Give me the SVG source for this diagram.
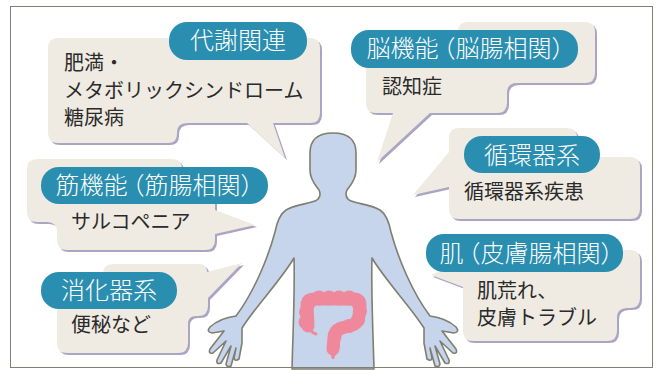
<svg xmlns="http://www.w3.org/2000/svg" width="659" height="370" viewBox="0 0 659 370">
  <defs>
    <style>
      .frame { fill: none; stroke: #7f7f72; stroke-width: 1; }
      .shadow { fill: #a9a5c2; }
      .bubble { fill: #efebe2; }
      .pill { fill: #2a8eb0; }
      .title { font-family: "Noto Sans CJK JP", "Noto Sans", sans-serif; font-size: 24px; font-weight: 300; fill: #ffffff; text-anchor: middle; }
      .body { font-family: "Noto Sans CJK JP", "Noto Sans", sans-serif; font-size: 20px; fill: #2a2a2a; }
      .half { font-feature-settings: "halt"; }
      .figure { fill: #c6d4ec; stroke: #7f7f70; stroke-width: 1.6; stroke-linejoin: round; }
      .colon { fill: #f0889c; }
      .colon-line { fill: none; stroke: #f0889c; stroke-linecap: round; stroke-linejoin: round; }
    </style>
  </defs>

  <rect width="659" height="370" fill="#ffffff"/>

  <!-- human figure -->
  <g id="figure">
    <path class="figure" d="
      M 333,133
      C 347,133 356,139 356,153
      V 170
      C 356,180 350,186 347,190
      C 345,194 346,199 351,201
      C 359,204 372,205 380,210
      C 386,214 389,222 391,232
      C 398,258 412,292 430,316
      Q 446,318 456,327
      Q 460,332 454,333
      L 442,331
      L 456,349 Q 458,354 453,353
      L 440,341
      L 449,360 Q 450,365 445,363
      L 435,346
      L 440,364 Q 439,368 435,366
      L 430,348
      L 432,358 Q 431,362 427,359
      L 424,343
      L 424,328
      C 410,306 385,280 372,258
      C 371,290 373,330 374,369
      L 292,369
      C 293,330 295,290 294,258
      C 281,280 256,306 242,328
      L 242,343
      L 239,359 Q 235,362 234,358
      L 236,348
      L 231,366 Q 227,368 226,364
      L 231,346
      L 221,363 Q 216,365 217,360
      L 226,341
      L 213,353 Q 208,354 210,349
      L 224,331
      L 212,333
      Q 206,332 210,327
      Q 220,318 236,316
      C 254,292 268,258 275,232
      C 277,222 280,214 286,210
      C 294,205 307,204 315,201
      C 320,199 321,194 319,190
      C 316,186 310,180 310,170
      V 153
      C 310,139 319,133 333,133 Z"/>
    <!-- large intestine -->
    <g id="colon">
      <path class="colon-line" stroke-width="13" d="M 308,326 L 307,304 Q 308,299 314,299 L 354,299 Q 360,299 360,305 L 359,316 Q 358,324 350,326 L 341,328 Q 334,331 334,338 L 333,349"/>
      <path class="colon-line" stroke-width="3" d="M 309,328 Q 312,333 316,334"/>
      <g class="colon">
        <circle cx="306" cy="322" r="7.5"/>
        <circle cx="306" cy="312" r="7"/>
        <circle cx="309" cy="302" r="7.5"/>
        <circle cx="319" cy="298" r="7.5"/>
        <circle cx="329" cy="298" r="7.5"/>
        <circle cx="339" cy="298" r="7.5"/>
        <circle cx="349" cy="298" r="7.5"/>
        <circle cx="358" cy="302" r="7.5"/>
        <circle cx="360" cy="311" r="7"/>
        <circle cx="358" cy="320" r="7"/>
        <circle cx="349" cy="326" r="7"/>
        <circle cx="340" cy="329" r="6.5"/>
        <circle cx="335" cy="337" r="6.5"/>
        <circle cx="334" cy="346" r="6"/>
        <path d="M 329,348 L 338,348 L 334,359 L 332,359 Z"/>
      </g>
    </g>
  </g>

  <!-- 代謝関連 -->
  <g id="node-metabolic">
    <path class="shadow" transform="translate(2,2)" d="M 58,38 H 310 Q 320,38 320,48 V 113 Q 320,123 310,123 H 273 L 285,158 L 247,123 H 187 Q 177,123 177,133 V 134 Q 177,143 168,143 H 58 Q 48,143 48,133 V 48 Q 48,38 58,38 Z"/>
    <path class="bubble" d="M 58,38 H 310 Q 320,38 320,48 V 113 Q 320,123 310,123 H 273 L 285,158 L 247,123 H 187 Q 177,123 177,133 V 134 Q 177,143 168,143 H 58 Q 48,143 48,133 V 48 Q 48,38 58,38 Z"/>
    <rect class="pill" x="169" y="22" width="138" height="38" rx="18"/>
    <text class="title" x="238" y="49">代謝関連</text>
    <text class="body" x="64" y="70">肥満・</text>
    <text class="body" x="64" y="97.5">メタボリックシンドローム</text>
    <text class="body" x="64" y="125">糖尿病</text>
  </g>

  <!-- 脳機能（脳腸相関） -->
  <g id="node-brain">
    <path class="shadow" transform="translate(2,2)" d="M 468,22 H 585 Q 595,22 595,32 V 73 Q 595,83 585,83 H 517 Q 507,83 507,93 V 103 Q 507,113 497,113 H 430 L 377,162 L 393,113 H 376 Q 366,113 366,103 V 55 Q 366,45 376,45 H 448 Q 458,45 458,35 V 32 Q 458,22 468,22 Z"/>
    <path class="bubble" d="M 468,22 H 585 Q 595,22 595,32 V 73 Q 595,83 585,83 H 517 Q 507,83 507,93 V 103 Q 507,113 497,113 H 430 L 377,162 L 393,113 H 376 Q 366,113 366,103 V 55 Q 366,45 376,45 H 448 Q 458,45 458,35 V 32 Q 458,22 468,22 Z"/>
    <rect class="pill" x="351" y="30" width="227" height="38" rx="18"/>
    <text class="title" x="465" y="57">脳機能<tspan class="half" dx="5">（</tspan>脳腸相関<tspan class="half">）</tspan></text>
    <text class="body" x="382" y="93.5">認知症</text>
  </g>

  <!-- 循環器系 -->
  <g id="node-circulatory">
    <path class="shadow" transform="translate(2,2)" d="M 459,128 H 567 Q 577,128 577,138 V 147 Q 577,157 587,157 H 630 Q 640,157 640,167 V 209 Q 640,219 630,219 H 459 Q 449,219 449,209 V 187 L 413,195 L 449,152 V 138 Q 449,128 459,128 Z"/>
    <path class="bubble" d="M 459,128 H 567 Q 577,128 577,138 V 147 Q 577,157 587,157 H 630 Q 640,157 640,167 V 209 Q 640,219 630,219 H 459 Q 449,219 449,209 V 187 L 413,195 L 449,152 V 138 Q 449,128 459,128 Z"/>
    <rect class="pill" x="464" y="136" width="136" height="37" rx="18"/>
    <text class="title" x="532" y="163.5">循環器系</text>
    <text class="body" x="464" y="199">循環器系疾患</text>
  </g>

  <!-- 肌（皮膚腸相関） -->
  <g id="node-skin">
    <path class="shadow" transform="translate(2,2)" d="M 473,250 H 630 Q 640,250 640,260 V 298 Q 640,308 630,308 H 627 Q 617,308 617,318 V 331 Q 617,341 607,341 H 473 Q 463,341 463,331 V 287 L 431,275 L 463,262 V 260 Q 463,250 473,250 Z"/>
    <path class="bubble" d="M 473,250 H 630 Q 640,250 640,260 V 298 Q 640,308 630,308 H 627 Q 617,308 617,318 V 331 Q 617,341 607,341 H 473 Q 463,341 463,331 V 287 L 431,275 L 463,262 V 260 Q 463,250 473,250 Z"/>
    <rect class="pill" x="426" y="234" width="197" height="38" rx="18"/>
    <text class="title" x="526" y="262">肌<tspan class="half" dx="5">（</tspan>皮膚腸相関<tspan class="half">）</tspan></text>
    <text class="body" x="477" y="298">肌荒れ、</text>
    <text class="body" x="477" y="325">皮膚トラブル</text>
  </g>

  <!-- 筋機能（筋腸相関） -->
  <g id="node-muscle">
    <path class="shadow" transform="translate(2,2)" d="M 37,159 H 172 Q 182,159 182,169 V 180 H 205 Q 215,180 215,190 V 210 L 255,225 L 215,234 V 240 Q 215,250 205,250 H 67 Q 57,250 57,240 V 232 Q 57,222 47,222 H 37 Q 27,222 27,212 V 169 Q 27,159 37,159 Z"/>
    <path class="bubble" d="M 37,159 H 172 Q 182,159 182,169 V 180 H 205 Q 215,180 215,190 V 210 L 255,225 L 215,234 V 240 Q 215,250 205,250 H 67 Q 57,250 57,240 V 232 Q 57,222 47,222 H 37 Q 27,222 27,212 V 169 Q 27,159 37,159 Z"/>
    <rect class="pill" x="41" y="167" width="227" height="37" rx="18"/>
    <text class="title" x="154" y="194">筋機能<tspan class="half" dx="5">（</tspan>筋腸相関<tspan class="half">）</tspan></text>
    <text class="body" x="71" y="229">サルコペニア</text>
  </g>

  <!-- 消化器系 -->
  <g id="node-digestive">
    <path class="shadow" transform="translate(2,2)" d="M 113,264 H 199 Q 207,264 207,272 L 242,263 L 208,298 V 306 Q 208,316 198,316 H 196 Q 188,316 188,324 V 343 Q 188,353 178,353 H 67 Q 57,353 57,343 V 290 H 103 V 274 Q 103,264 113,264 Z"/>
    <path class="bubble" d="M 113,264 H 199 Q 207,264 207,272 L 242,263 L 208,298 V 306 Q 208,316 198,316 H 196 Q 188,316 188,324 V 343 Q 188,353 178,353 H 67 Q 57,353 57,343 V 290 H 103 V 274 Q 103,264 113,264 Z"/>
    <rect class="pill" x="41" y="272" width="136" height="37" rx="18"/>
    <text class="title" x="109" y="299">消化器系</text>
    <text class="body" x="71" y="332">便秘など</text>
  </g>

  <rect class="frame" x="10.5" y="6.5" width="642" height="361"/>
</svg>
